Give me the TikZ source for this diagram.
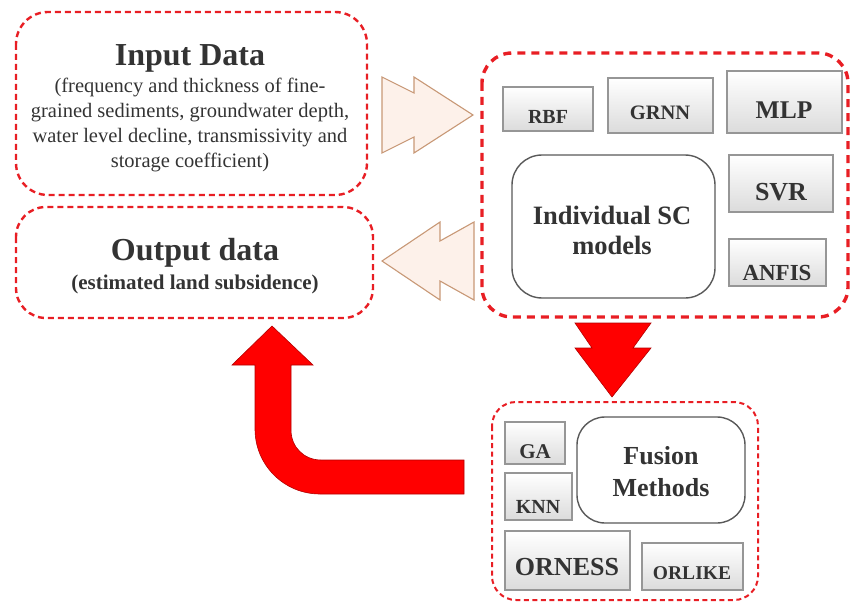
\documentclass[tikz,border=0pt]{standalone}
\usepackage{fontspec}
\setmainfont{Liberation Serif}
\usetikzlibrary{shadows}
\definecolor{dashred}{RGB}{232,30,36}
\definecolor{txtgray}{RGB}{51,51,51}
\definecolor{peach}{RGB}{253,241,234}
\definecolor{chevedge}{RGB}{200,152,118}
\definecolor{boxedge}{RGB}{150,150,150}
\tikzset{
  databox/.style={draw=dashred, line width=2.4pt, dash pattern=on 6pt off 4pt, rounded corners=32pt},
  scbox/.style={draw=dashred, line width=3.4pt, dash pattern=on 8pt off 6pt, rounded corners=30pt},
  fusebox/.style={draw=dashred, line width=2pt, dash pattern=on 5pt off 3.5pt, rounded corners=24pt},
  modelbox/.style={draw=boxedge, line width=1.1pt, top color=white, bottom color=black!14,
    drop shadow={shadow xshift=1.2pt, shadow yshift=-1.2pt, opacity=0.25}},
  corebox/.style={draw=black!65, line width=1.4pt, fill=white, rounded corners=30pt},
  chevron/.style={draw=chevedge, line width=1.1pt, fill=peach},
  bigarrow/.style={fill=red, draw=red!70!black, line width=0.6pt},
  title/.style={font=\bfseries\fontsize{32}{36}\selectfont, text=txtgray, inner sep=0pt},
  lbl/.style={font=\bfseries\fontsize{#1}{#1}\selectfont, text=txtgray, inner sep=0pt}
}
\begin{document}
\begin{tikzpicture}[x=1pt, y=-1pt]
\useasboundingbox (0,0) rectangle (851,604);

% Input and output boxes
\draw[databox] (16,12) rectangle (367,195);
\draw[databox, rounded corners=30pt] (16,207) rectangle (373,318);
\node[title] (inp) at (190,58) {Input Data};
\node[font=\fontsize{20.5}{25}\selectfont, text=txtgray, align=center, inner sep=0pt] (inpsub) at (190,125)
  {(frequency and thickness of fine-\\grained sediments, groundwater depth,\\water level decline, transmissivity and\\storage coefficient)};
\node[title] (outp) at (195,253) {Output data};
\node[lbl=21] (outsub) at (195,284) {(estimated land subsidence)};

% Individual SC models
\draw[scbox] (482,53) rectangle (848,317);
\draw[corebox] (512,155) rectangle (715,298);
\node[lbl=26.5, align=center, font=\bfseries\fontsize{26.5}{30}\selectfont] (sc) at (612,230) {Individual SC\\models};
\draw[modelbox] (503,87) rectangle (593,131);
\draw[modelbox] (608,78) rectangle (713,133);
\draw[modelbox] (727,71) rectangle (842,133);
\draw[modelbox] (729,155) rectangle (833,212);
\draw[modelbox] (729,239) rectangle (826,286);
\node[lbl=20] (rbf) at (548,117) {RBF};
\node[lbl=20.5] (grnn) at (660,113) {GRNN};
\node[lbl=25.5] (mlp) at (784,110) {MLP};
\node[lbl=26] (svr) at (781,192) {SVR};
\node[lbl=23] (anfis) at (777,273) {ANFIS};

% Fusion methods
\draw[fusebox] (492,402) rectangle (758,600);
\draw[corebox, rounded corners=28pt] (577,417) rectangle (745,523);
\node[lbl=26, align=center, font=\bfseries\fontsize{26}{32}\selectfont] (fuse) at (661,472) {Fusion\\Methods};
\draw[modelbox] (505,422) rectangle (565,464);
\draw[modelbox] (505,473) rectangle (572,520);
\draw[modelbox] (505,531) rectangle (630,590);
\draw[modelbox] (642,543) rectangle (743,590);
\node[lbl=21] (ga) at (535,452) {GA};
\node[lbl=20] (knn) at (538,507) {KNN};
\node[lbl=26] (orness) at (567,567) {ORNESS};
\node[lbl=19.5] (orlike) at (692,573) {ORLIKE};

% Arrows
\draw[chevron] (382,77) -- (414,93) -- (414,77) -- (473,115) -- (414,153) -- (414,137) -- (382,153) -- cycle;
\draw[chevron] (382,261) -- (440,222) -- (440,241) -- (474,222) -- (474,300) -- (440,281) -- (440,300) -- cycle;
\draw[bigarrow] (575,323) -- (651,323) -- (633,348) -- (651,348) -- (612,397) -- (575,348) -- (592,348) -- cycle;
\draw[bigarrow] (272,326) -- (313,365) -- (291,365) -- (291,430)
  .. controls (291,447) and (304,460) .. (321,460) -- (464,460) -- (464,494) -- (320,494)
  .. controls (284,494) and (255,465) .. (255,429) -- (255,365) -- (232,365) -- cycle;

\end{tikzpicture}
\end{document}
